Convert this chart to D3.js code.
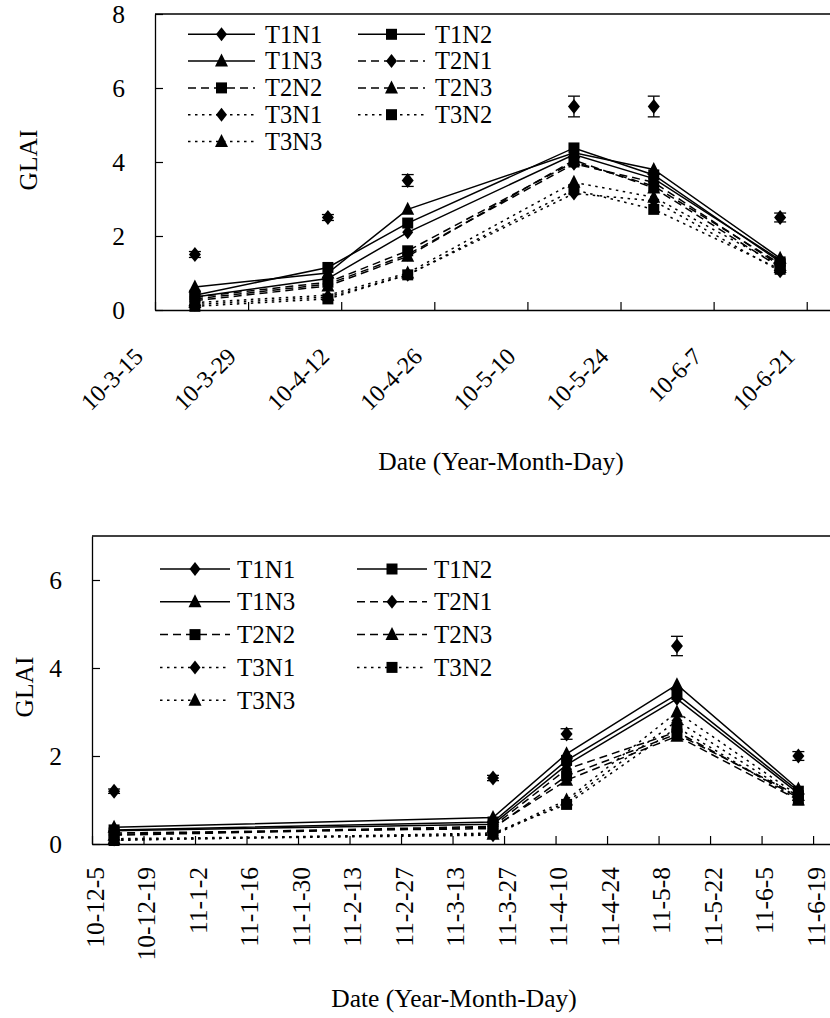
<!DOCTYPE html>
<html><head><meta charset="utf-8">
<script src="https://cdn.jsdelivr.net/npm/d3@7"></script>
<style>
body{margin:0;background:#fff}
svg{display:block}
svg text{font-family:"Liberation Serif","Times New Roman",Times,"DejaVu Serif",serif !important;fill:#000}
</style>
</head><body>
<svg id="c" width="830" height="1018" font-family="Liberation Serif, Times New Roman, serif"></svg>
<script>
// ---------- shared series definitions ----------
const seriesNames = ["T1N1","T1N2","T1N3","T2N1","T2N2","T2N3","T3N1","T3N2","T3N3"];
const seriesDash  = ["none","none","none","8,5","8,5","8,5","2.5,4.5","2.5,4.5","2.5,4.5"];
const seriesMarker = ["diamond","square","triangle","diamond","square","triangle","diamond","square","triangle"];

// ---------- chart 1 (2010) ----------
const dates2010 = ["10-3-21","10-4-10","10-4-22","10-5-17","10-5-29","10-6-17"];
const g2010_T1N1 = [0.35, 0.85, 2.10, 4.20, 3.55, 1.35];
const g2010_T1N2 = [0.40, 1.15, 2.35, 4.38, 3.65, 1.30];
const g2010_T1N3 = [0.62, 1.00, 2.72, 4.25, 3.80, 1.40];
const g2010_T2N1 = [0.30, 0.70, 1.50, 3.95, 3.45, 1.20];
const g2010_T2N2 = [0.35, 0.75, 1.60, 4.00, 3.35, 1.25];
const g2010_T2N3 = [0.25, 0.65, 1.45, 4.05, 3.30, 1.15];
const g2010_T3N1 = [0.15, 0.35, 0.95, 3.15, 2.95, 1.05];
const g2010_T3N2 = [0.10, 0.30, 0.95, 3.25, 2.72, 1.10];
const g2010_T3N3 = [0.20, 0.40, 1.00, 3.45, 3.05, 1.20];
const obs2010    = [1.5, 2.5, 3.5, 5.5, 5.5, 2.5];
const obsErr2010 = [0.08, 0.08, 0.16, 0.28, 0.28, 0.12];
const xTicks2010 = ["10-3-15","10-3-29","10-4-12","10-4-26","10-5-10","10-5-24","10-6-7","10-6-21"];
const yTicks2010 = [0, 2, 4, 6, 8];

// ---------- chart 2 (2010-2011) ----------
const dates2011 = ["10-12-11","11-3-24","11-4-13","11-5-13","11-6-15"];
const g2011_T1N1 = [0.30, 0.45, 1.80, 3.30, 1.15];
const g2011_T1N2 = [0.32, 0.50, 1.90, 3.40, 1.20];
const g2011_T1N3 = [0.38, 0.60, 2.05, 3.62, 1.25];
const g2011_T2N1 = [0.22, 0.40, 1.70, 2.55, 1.05];
const g2011_T2N2 = [0.25, 0.35, 1.55, 2.50, 1.10];
const g2011_T2N3 = [0.20, 0.38, 1.45, 2.45, 1.00];
const g2011_T3N1 = [0.10, 0.20, 0.95, 2.80, 1.05];
const g2011_T3N2 = [0.08, 0.25, 0.90, 2.65, 1.00];
const g2011_T3N3 = [0.12, 0.22, 1.00, 3.00, 1.10];
const obs2011    = [1.2, 1.5, 2.5, 4.5, 2.0];
const obsErr2011 = [0.05, 0.06, 0.12, 0.22, 0.10];
const xTicks2011 = ["10-12-5","10-12-19","11-1-2","11-1-16","11-1-30","11-2-13","11-2-27","11-3-13","11-3-27","11-4-10","11-4-24","11-5-8","11-5-22","11-6-5","11-6-19"];
const yTicks2011 = [0, 2, 4, 6];

const parse = d3.timeParse("%y-%m-%d");
const DAY = 864e5;
const FONT = '"Liberation Serif", "Times New Roman", Times, serif';

const markerPath = {
  diamond: "M0,-7L5.5,0L0,7L-5.5,0Z",
  square: "M-5.5,-5.5H5.5V5.5H-5.5Z",
  triangle: "M0,-7.5L6.5,5.5H-6.5Z"
};

const svg = d3.select("#c");

function drawChart(cfg) {
  const g = svg.append("g");
  const start = parse(cfg.xTicks[0]);
  const x = d3.scaleTime()
    .domain([start, new Date(+start + cfg.spanDays * DAY)])
    .range([cfg.left, cfg.right]);
  const y = d3.scaleLinear().domain([0, cfg.yMax]).range([cfg.bottom, cfg.top]);
  const dates = cfg.dates.map(parse);

  // frame top line
  g.append("line").attr("x1", cfg.left).attr("x2", cfg.right).attr("y1", cfg.top).attr("y2", cfg.top)
    .attr("stroke", "#000").attr("stroke-width", 1.3);

  // x axis
  const xAxis = g.append("g").attr("transform", `translate(0,${cfg.bottom})`)
    .call(d3.axisBottom(x).tickValues(cfg.xTicks.map(parse))
      .tickFormat((d, i) => cfg.xTicks[i]).tickSizeInner(-8).tickSizeOuter(0));
  xAxis.attr("font-family", FONT).attr("font-size", cfg.fs);
  xAxis.select(".domain").attr("stroke-width", 1.5);
  xAxis.selectAll(".tick line").attr("stroke-width", 1.2);
  xAxis.selectAll(".tick text")
    .attr("x", 0).attr("y", 0).attr("dy", 0)
    .attr("transform", cfg.xLabelTransform)
    .attr("font-family", FONT)
    .style("text-anchor", "end")
    .style("font-size", cfg.fs + "px");

  // y axis
  const yAxis = g.append("g").attr("transform", `translate(${cfg.left},0)`)
    .call(d3.axisLeft(y).tickValues(cfg.yTicks).tickFormat(d3.format("d"))
      .tickSizeInner(-8).tickSizeOuter(0).tickPadding(30));
  yAxis.attr("font-family", FONT).attr("font-size", cfg.fs);
  yAxis.select(".domain").attr("stroke-width", 1.3);
  yAxis.selectAll(".tick line").attr("stroke-width", 1.2);
  yAxis.selectAll(".tick text").attr("font-family", FONT).style("font-size", cfg.yfs + "px");

  // axis titles
  g.append("text").attr("transform", `translate(${cfg.yTitle[0]},${cfg.yTitle[1]}) rotate(-90)`)
    .attr("text-anchor", "middle").attr("font-family", FONT).style("font-size", cfg.tfs + "px").text("GLAI");
  g.append("text").attr("x", cfg.xTitle[0]).attr("y", cfg.xTitle[1])
    .attr("text-anchor", "middle").attr("font-family", FONT).style("font-size", cfg.tfs + "px").text("Date (Year-Month-Day)");

  // series lines
  const line = d3.line().x((d, i) => x(dates[i])).y(d => y(d));
  cfg.series.forEach((vals, s) => {
    g.append("path").attr("d", line(vals)).attr("fill", "none")
      .attr("stroke", "#000").attr("stroke-width", 1.5)
      .attr("stroke-dasharray", seriesDash[s]);
  });
  cfg.series.forEach((vals, s) => {
    g.selectAll(null).data(vals).join("path")
      .attr("d", markerPath[seriesMarker[s]])
      .attr("transform", (d, i) => `translate(${x(dates[i])},${y(d)})`)
      .attr("fill", "#000");
  });

  // observed values with error bars
  cfg.obs.forEach((v, i) => {
    const cx = x(dates[i]);
    const e = cfg.obsErr[i];
    g.append("line").attr("x1", cx).attr("x2", cx).attr("y1", y(v - e)).attr("y2", y(v + e))
      .attr("stroke", "#000").attr("stroke-width", 1.3);
    [v - e, v + e].forEach(b => g.append("line").attr("x1", cx - 6).attr("x2", cx + 6)
      .attr("y1", y(b)).attr("y2", y(b)).attr("stroke", "#000").attr("stroke-width", 1.3));
    g.append("path").attr("d", "M0,-7.5L6,0L0,7.5L-6,0Z")
      .attr("transform", `translate(${cx},${y(v)})`).attr("fill", "#000");
  });

  // legend
  const L = cfg.legend;
  seriesNames.forEach((name, s) => {
    const col = s % 2, row = Math.floor(s / 2);
    const x0 = L.cols[col], yy = L.y0 + row * L.dy;
    const lg = g.append("g").attr("transform", `translate(${x0},${yy})`);
    lg.append("line").attr("x1", 0).attr("x2", L.lineLen).attr("y1", 0).attr("y2", 0)
      .attr("stroke", "#000").attr("stroke-width", 1.5).attr("stroke-dasharray", seriesDash[s]);
    lg.append("path").attr("d", markerPath[seriesMarker[s]])
      .attr("transform", `translate(${L.lineLen / 2},0)`).attr("fill", "#000");
    lg.append("text").attr("x", L.lineLen + L.gap).attr("y", 0).attr("dy", "0.34em")
      .attr("font-family", FONT).style("font-size", L.fs + "px").text(name);
  });
}

drawChart({
  left: 155, right: 830, top: 14, bottom: 310, yMax: 8, spanDays: 101.5,
  xTicks: xTicks2010, yTicks: yTicks2010, dates: dates2010,
  series: [g2010_T1N1, g2010_T1N2, g2010_T1N3, g2010_T2N1, g2010_T2N2, g2010_T2N3, g2010_T3N1, g2010_T3N2, g2010_T3N3],
  obs: obs2010, obsErr: obsErr2010,
  fs: 24, yfs: 25.5, tfs: 25.5,
  xLabelTransform: "translate(-11,48) rotate(-45)",
  yTitle: [37, 160], xTitle: [501, 470],
  legend: { cols: [188, 358], y0: 34.3, dy: 26.8, lineLen: 67, gap: 10, fs: 24.5 }
});

drawChart({
  left: 92, right: 830, top: 536, bottom: 844, yMax: 7, spanDays: 200.6,
  xTicks: xTicks2011, yTicks: yTicks2011, dates: dates2011,
  series: [g2011_T1N1, g2011_T1N2, g2011_T1N3, g2011_T2N1, g2011_T2N2, g2011_T2N3, g2011_T3N1, g2011_T3N2, g2011_T3N3],
  obs: obs2011, obsErr: obsErr2011,
  fs: 25.5, yfs: 25.5, tfs: 25.5,
  xLabelTransform: "translate(11,23) rotate(-90)",
  yTitle: [33, 687], xTitle: [454, 1007],
  legend: { cols: [160, 357], y0: 569, dy: 32.8, lineLen: 70, gap: 7, fs: 25 }
});
</script>
</body></html>
